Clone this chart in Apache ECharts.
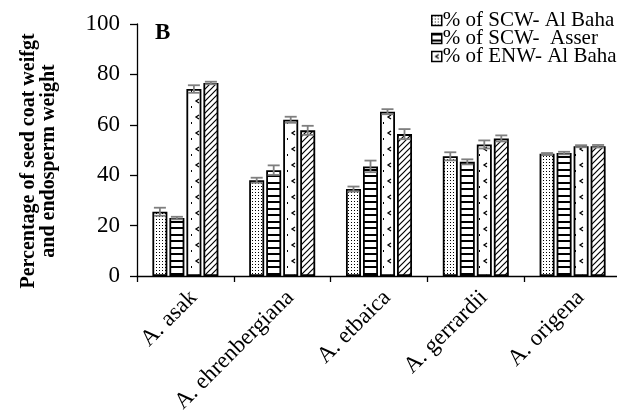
<!DOCTYPE html>
<html>
<head>
<meta charset="utf-8">
<script src="https://cdn.jsdelivr.net/npm/echarts@6/dist/echarts.min.js"></script>
<style>
  html, body { margin: 0; padding: 0; background: #fff; }
  #chart { width: 617px; height: 411px; }
</style>
</head>
<body>
<div id="chart"></div>
<script>
// Species on the x axis
const species = ['A. asak', 'A. ehrenbergiana', 'A. etbaica', 'A. gerrardii', 'A. origena'];

// Series names
const seriesNames = ['% of SCW- Al Baha', '% of SCW-  Asser', '% of ENW- Al Baha', '% of ENW- Asser'];

// Mean percentages per species
const scwAlBaha = [25.5, 38.0, 34.5, 47.5, 48.5];
const scwAsser  = [23.0, 42.0, 43.5, 45.3, 48.8];
const enwAlBaha = [74.2, 62.0, 65.2, 52.2, 51.5];
const enwAsser  = [76.6, 57.8, 56.3, 54.6, 51.5];

// Standard errors
const scwAlBahaErr = [1.6, 1.0, 1.0, 1.6, 0.3];
const scwAsserErr  = [0.5, 1.9, 2.3, 1.0, 0.5];
const enwAlBahaErr = [1.5, 1.2, 1.0, 1.6, 0.4];
const enwAsserErr  = [0.5, 1.8, 2.0, 1.2, 0.5];

// Y axis ticks
const yMin = 0, yMax = 100, yStep = 20;

const values = [scwAlBaha, scwAsser, enwAlBaha, enwAsser];
const errors = [scwAlBahaErr, scwAsserErr, enwAlBahaErr, enwAsserErr];

// ---- fill patterns ----
function makeTile(w, h, draw) {
  const c = document.createElement('canvas');
  c.width = w; c.height = h;
  const ctx = c.getContext('2d');
  ctx.fillStyle = '#fff';
  ctx.fillRect(0, 0, w, h);
  ctx.fillStyle = '#000';
  ctx.strokeStyle = '#000';
  draw(ctx);
  return c;
}
const dotTile = makeTile(3, 3, ctx => { ctx.fillRect(0, 0, 1, 1); });
const lineTile = makeTile(4, 13, ctx => { ctx.fillRect(0, 0, 4, 2); ctx.fillRect(0, 6, 4, 2); });
const markTile = makeTile(12, 16, ctx => {
  ctx.lineWidth = 1.3;
  ctx.beginPath();
  ctx.moveTo(7, 3); ctx.lineTo(4, 5); ctx.lineTo(7, 7);
  ctx.stroke();
  ctx.fillRect(11, 10, 1, 2);
});
const hatchTile = makeTile(6, 6, ctx => {
  ctx.lineWidth = 1.2;
  ctx.beginPath();
  ctx.moveTo(-1, 7); ctx.lineTo(7, -1);
  ctx.moveTo(-1, 1); ctx.lineTo(1, -1);
  ctx.moveTo(5, 7); ctx.lineTo(7, 5);
  ctx.stroke();
});
const tiles = [dotTile, lineTile, markTile, hatchTile];

const serif = 'Liberation Serif';
const barW = 15;
const barStep = 17;

const barSeries = seriesNames.map((name, i) => ({
  name: name,
  type: 'bar',
  barWidth: barW,
  barGap: '13.4%',
  data: values[i],
  itemStyle: {
    color: { image: tiles[i], repeat: 'repeat' },
    borderColor: '#000',
    borderWidth: 1.8
  },
  emphasis: { disabled: true },
  z: 2
}));

const errSeries = seriesNames.map((name, i) => ({
  type: 'custom',
  name: name + ' err',
  data: values[i].map((v, k) => [k, v, errors[i][k]]),
  z: 5,
  silent: true,
  renderItem: function (params, api) {
    const k = api.value(0);
    const v = api.value(1);
    const e = api.value(2);
    const base = api.coord([k, v]);
    const x = base[0] + (i - 1.5) * barStep;
    const yHi = api.coord([k, v + e])[1];
    const yLo = api.coord([k, v - e])[1];
    const cap = 6;
    const style = { stroke: '#7f7f7f', lineWidth: 1.8 };
    return {
      type: 'group',
      children: [
        { type: 'line', shape: { x1: x, y1: yHi, x2: x, y2: yLo }, style: style },
        { type: 'line', shape: { x1: x - cap, y1: yHi, x2: x + cap, y2: yHi }, style: style },
        { type: 'line', shape: { x1: x - cap, y1: yLo, x2: x + cap, y2: yLo }, style: style }
      ]
    };
  }
}));

const chart = echarts.init(document.getElementById('chart'), null, { renderer: 'canvas' });
chart.setOption({
  animation: false,
  backgroundColor: '#fff',
  grid: { left: 137, right: -4, top: 24, bottom: 135, containLabel: false, outerBoundsMode: 'none' },
  legend: {
    data: seriesNames.slice(0, 3),
    orient: 'vertical',
    left: 426,
    top: 5,
    itemWidth: 10,
    itemHeight: 10,
    itemGap: -3,
    icon: 'rect',
    selectedMode: false,
    textStyle: { fontFamily: serif, fontSize: 21, color: '#000', padding: [0, 0, 0, -4] },
    itemStyle: { borderColor: '#000', borderWidth: 1.5 }
  },
  xAxis: {
    type: 'category',
    data: species,
    boundaryGap: true,
    axisLine: { lineStyle: { color: '#000', width: 1.3 } },
    axisTick: { show: true, length: 6, lineStyle: { color: '#000', width: 1.3 } },
    axisLabel: {
      rotate: 45,
      margin: 10,
      interval: 0,
      align: 'right',
      verticalAlign: 'top',
      fontFamily: serif,
      fontSize: 23,
      color: '#000'
    },
    splitLine: { show: false }
  },
  yAxis: {
    type: 'value',
    min: yMin,
    max: yMax,
    interval: yStep,
    name: 'Percentage of seed coat weifgt\nand endosperm weight',
    nameLocation: 'middle',
    nameRotate: 90,
    nameGap: 78,
    nameTextStyle: {
      fontFamily: serif, fontSize: 20, fontWeight: 'bold', color: '#000',
      lineHeight: 20, padding: [0, 22, 0, 0]
    },
    axisLine: { show: true, lineStyle: { color: '#000', width: 1.3 } },
    axisTick: { show: true, length: 7, lineStyle: { color: '#000', width: 1.3 } },
    axisLabel: { fontFamily: serif, fontSize: 23, color: '#000', margin: 17 },
    splitLine: { show: false }
  },
  graphic: [
    {
      type: 'text',
      left: 155,
      top: 22,
      style: { text: 'B', font: 'bold 23px "Liberation Serif"', fill: '#000' }
    }
  ],
  series: barSeries.concat(errSeries)
});
</script>
</body>
</html>
